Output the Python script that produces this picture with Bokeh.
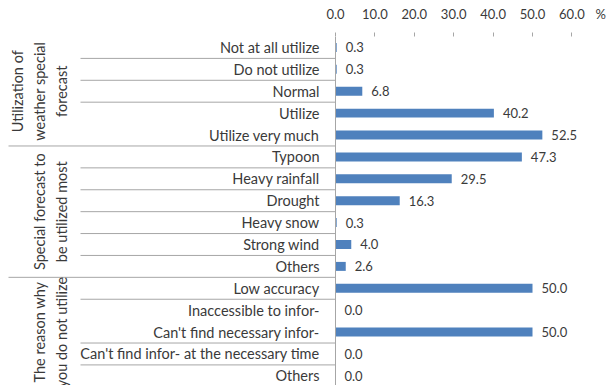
import math

from bokeh.core.properties import value
from bokeh.embed import file_html
from bokeh.models import ColumnDataSource, FixedTicker, Range1d, Span
from bokeh.plotting import figure
from bokeh.resources import INLINE

# ---- data -------------------------------------------------------------
groups = [
    "Utilization of\nweather special\nforecast",
    "Special forecast to\nbe utilized most",
    "The reason why\nyou do not utilize",
]
group_sizes = [5, 6, 5]

categories = [
    "Not at all utilize",
    "Do not utilize",
    "Normal",
    "Utilize",
    "Utilize very much",
    "Typoon",
    "Heavy rainfall",
    "Drought",
    "Heavy snow",
    "Strong wind",
    "Others",
    "Low accuracy",
    "Inaccessible to infor-",
    "Can't find necessary infor-",
    "Can't find infor- at the necessary time",
    "Others",
]
percent = [0.3, 0.3, 6.8, 40.2, 52.5, 47.3, 29.5, 16.3, 0.3, 4.0, 2.6,
           50.0, 0.0, 50.0, 0.0, 0.0]

x_ticks = [0, 10, 20, 30, 40, 50, 60]
x_tick_labels = ["0.0", "10.0", "20.0", "30.0", "40.0", "50.0", "60.0"]
unit_label = "%"

# rows followed by a divider inside a group, and rows that close a group
inner_dividers = [0, 1, 2, 5, 6, 7, 8, 9, 11, 13, 14]
group_dividers = [4, 10]

# ---- layout -----------------------------------------------------------
W, H = 609, 385
TOP = 36
AXIS_PX = 335              # screen x of the zero line
PX_PER_UNIT = 3.94
X_MIN = -AXIS_PX / PX_PER_UNIT
X_MAX = (W - AXIS_PX) / PX_PER_UNIT

FONT = "Lato"
TEXT = "#3a3a3a"
GRID = "#A6A6A6"
BAR = "#4F81BD"

rows = list(range(len(categories)))

p = figure(
    width=W, height=H,
    x_range=Range1d(X_MIN, X_MAX),
    y_range=Range1d(15.44, -0.5),
    x_axis_location="above", y_axis_location=None,
    output_backend="svg", toolbar_location=None,
    min_border=0, min_border_top=TOP,
)
p.outline_line_color = None
p.xgrid.grid_line_color = None
p.ygrid.grid_line_color = None
p.background_fill_color = "white"
p.border_fill_color = "white"

# top value axis with a trailing "%" unit label
ax = p.xaxis[0]
unit_pos = 67.3
ax.ticker = FixedTicker(ticks=x_ticks + [unit_pos], minor_ticks=x_ticks)
overrides = {t: s for t, s in zip(x_ticks, x_tick_labels)}
overrides[unit_pos] = unit_label
ax.major_label_overrides = overrides
ax.axis_line_color = None
ax.major_tick_line_color = None
ax.major_tick_in = 0
ax.major_tick_out = 0
ax.minor_tick_line_color = GRID
ax.minor_tick_in = 0
ax.minor_tick_out = 4
ax.major_label_standoff = 11
ax.major_label_text_font = FONT
ax.major_label_text_font_size = "13px"
ax.major_label_text_color = TEXT

# dividers between category labels
def divider_segments(after_rows, left_px):
    ys = [r + 0.5 for r in after_rows]
    x0 = [(left_px - AXIS_PX) / PX_PER_UNIT] * len(ys)
    x1 = [0] * len(ys)
    return dict(x0=x0, x1=x1, y0=ys, y1=ys)

p.segment(source=ColumnDataSource(divider_segments(inner_dividers, 80)),
          x0="x0", y0="y0", x1="x1", y1="y1", line_color=GRID, line_width=1)
p.segment(source=ColumnDataSource(divider_segments(group_dividers, 8)),
          x0="x0", y0="y0", x1="x1", y1="y1", line_color=GRID, line_width=1)

# category axis line
p.add_layout(Span(location=0, dimension="height", line_color=GRID, line_width=1))

# bars
src = ColumnDataSource(dict(
    y=rows, v=percent, cat=categories,
    lbl=[f"{v:.1f}" for v in percent],
))
p.hbar(y="y", left=0, right="v", height=0.41, source=src,
       fill_color=BAR, line_color=None)

# value labels
p.text(x="v", y="y", text="lbl", source=src, x_offset=9,
       text_align="left", text_baseline="middle",
       text_font=value(FONT), text_font_size="13px", text_color=TEXT)

# category labels
p.text(x=0, y="y", text="cat", source=src, x_offset=-16,
       text_align="right", text_baseline="middle",
       text_font=value(FONT), text_font_size="14.5px", text_color=TEXT)

# group labels, rotated
starts = [sum(group_sizes[:i]) for i in range(len(group_sizes))]
centers = [s + (n - 1) / 2 for s, n in zip(starts, group_sizes)]
p.text(x=[0] * len(groups), y=centers, text=groups,
       x_offset=70 - AXIS_PX, angle=math.pi / 2,
       text_align="center", text_baseline="bottom",
       text_line_height=1.3,
       text_font=value(FONT), text_font_size="14.5px", text_color=TEXT)

open("out.html", "w").write(file_html(p, INLINE))
